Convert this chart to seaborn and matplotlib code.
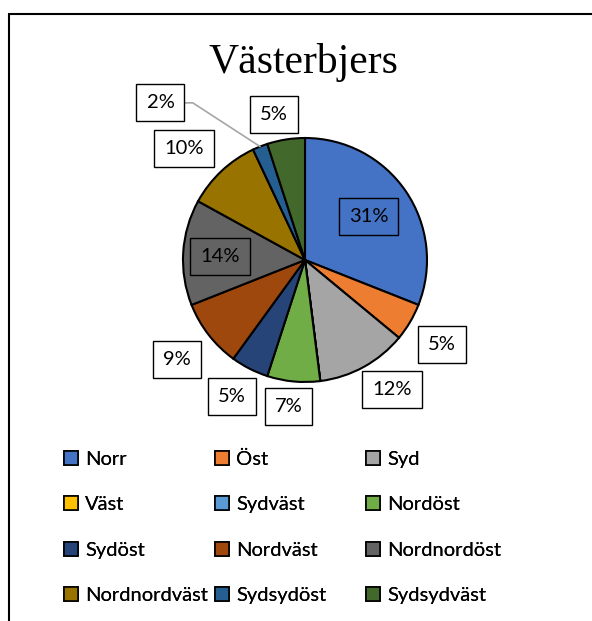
import numpy as np
import matplotlib
matplotlib.use("Agg")
import matplotlib.pyplot as plt
import matplotlib.patches as mpatches
from matplotlib.lines import Line2D
import seaborn as sns

# data
categories = ["Norr", "Öst", "Syd", "Väst", "Sydväst", "Nordöst", "Sydöst",
              "Nordväst", "Nordnordöst", "Nordnordväst", "Sydsydöst", "Sydsydväst"]
shares = [31, 5, 12, 0, 0, 7, 5, 9, 14, 10, 2, 5]
colors = ["#4472C4", "#ED7D31", "#A5A5A5", "#FFC000", "#5B9BD5", "#70AD47",
          "#264478", "#9E480E", "#636363", "#997300", "#255E91", "#43682B"]
title = "Västerbjers"

# label placement (radius factor, angle shift in degrees) - Excel "best fit" look
label_dist = [0.63, 1.32, 1.28, 1.2, 1.2, 1.21, 1.27, 1.33, 0.70, 1.35, 1.75, 1.22]
label_shift = [0, 1, -5, 0, 0, 1, 1, 0, -1, -4, -21, -3]

sns.set_style("white")
plt.rcParams["font.family"] = ["Lato", "DejaVu Sans"]
plt.rcParams["text.color"] = "black"

fig = plt.figure(figsize=(5.92, 6.21), dpi=100)
W, H = 592, 621
cx, cy, r = 305, 260, 122
ax = fig.add_axes([(cx - r) / W, (H - cy - r) / H, 2 * r / W, 2 * r / H])

pal = sns.color_palette(colors)
wedges, _ = ax.pie(shares, colors=pal, startangle=90, counterclock=False,
                   radius=1, wedgeprops=dict(edgecolor="black", linewidth=1.5))
ax.set_xlim(-1, 1)
ax.set_ylim(-1, 1)
ax.set_aspect("equal")
ax.axis("off")

total = sum(shares)
cum = np.cumsum([0] + shares)
for i, v in enumerate(shares):
    if v == 0:
        continue
    mid = (cum[i] + cum[i + 1]) / 2 / total * 360
    ang = np.deg2rad(90 - mid - label_shift[i])
    d = label_dist[i]
    x, y = d * np.cos(ang), d * np.sin(ang)
    inside = d < 1
    bbox = dict(boxstyle="square,pad=0.5", facecolor="none" if inside else "white",
                edgecolor="black", linewidth=1.0)
    if d > 1.5:
        amid = np.deg2rad(90 - mid)
        ax.annotate(f"{v}%", xy=(np.cos(amid), np.sin(amid)), xytext=(x, y),
                    ha="center", va="center", fontsize=14.5, bbox=bbox,
                    arrowprops=dict(arrowstyle="-", color="#a6a6a6", lw=1.2,
                                    shrinkA=0, shrinkB=0, relpos=(1, 0.5),
                                    connectionstyle="angle,angleA=0,angleB=147,rad=0"))
    else:
        ax.text(x, y, f"{v}%", ha="center", va="center", fontsize=14.5, bbox=bbox)

fig.text(303 / W, 1 - 73 / H, title, ha="center", va="baseline",
         fontsize=30, family="Liberation Serif", color="black")

# legend: three columns, filled row by row
handles = [mpatches.Patch(facecolor=c, edgecolor="black", linewidth=1.2) for c in pal]
col_x = [64, 215, 366]
for j in range(3):
    idx = list(range(j, len(categories), 3))
    leg = fig.legend([handles[k] for k in idx], [categories[k] for k in idx],
                     loc="upper left", bbox_to_anchor=(col_x[j] / W, 1 - 451 / H),
                     frameon=False, fontsize=14.5, handlelength=0.7,
                     handleheight=0.7, handletextpad=0.35, labelspacing=1.4,
                     borderpad=0, borderaxespad=0, labelcolor="black")
    fig.add_artist(leg)

# chart area frame (only top and left edges visible)
fig.add_artist(Line2D([9 / W, 1], [1 - 14 / H, 1 - 14 / H], color="black", lw=1.5))
fig.add_artist(Line2D([9 / W, 9 / W], [0, 1 - 14 / H], color="black", lw=1.5))

fig.savefig("out.png", dpi=100)
